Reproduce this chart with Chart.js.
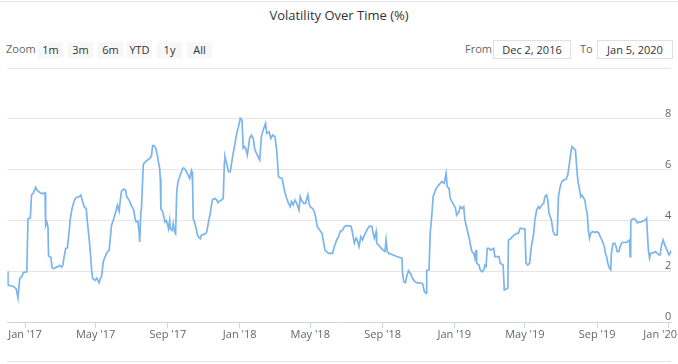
<!DOCTYPE html>
<html>
<head>
<meta charset="utf-8">
<script src="https://cdn.jsdelivr.net/npm/chart.js@4.4.1/dist/chart.umd.min.js"></script>
<style>
  html, body { margin: 0; padding: 0; background: #fff; }
  body { width: 678px; height: 364px; position: relative; overflow: hidden; font-family: "Open Sans", sans-serif; }
  .rule { position: absolute; left: 7px; width: 664px; height: 1px; background: #e6e6e6; }
  #title { position: absolute; top: 6px; left: 0; width: 678px; text-align: center; font-size: 13px; color: #333; }
  .lbl { position: absolute; top: 41px; font-size: 11px; color: #666; line-height: 16px; }
  .btn { position: absolute; top: 42px; width: 25px; height: 16px; line-height: 16px; background: #f7f7f7; color: #333; font-size: 11px; text-align: center; }
  .date { position: absolute; top: 40px; height: 17px; line-height: 17px; border: 1px solid #e0e0e0; font-size: 11px; color: #333; text-align: center; }
  #wrap { position: absolute; left: 0; top: 70px; width: 678px; height: 294px; }
</style>
</head>
<body>
<div class="rule" style="top:1px; left:0; width:678px;"></div>
<div id="title">Volatility Over Time (%)</div>

<div class="lbl" style="left:6px;">Zoom</div>
<div class="btn" style="left:38px;">1m</div>
<div class="btn" style="left:68px;">3m</div>
<div class="btn" style="left:98px;">6m</div>
<div class="btn" style="left:127px;">YTD</div>
<div class="btn" style="left:157px;">1y</div>
<div class="btn" style="left:187px;">All</div>

<div class="lbl" style="left:465px;">From</div>
<div class="date" style="left:493px; width:76px;">Dec 2, 2016</div>
<div class="lbl" style="left:580px;">To</div>
<div class="date" style="left:597px; width:74px;">Jan 5, 2020</div>
<div class="rule" style="top:68px;"></div>

<div id="wrap"><canvas id="chart" width="678" height="294"></canvas></div>
<div class="rule" style="top:361px;"></div>

<script>
// dates are stored as days after the first day of the range
const START_DATE = '2016-12-02';
const END_DATE = '2020-01-05';

const dayOffsets = [
  0, 1, 10, 15, 18, 21, 25, 27, 33, 35, 39, 41, 44, 48, 51, 56, 60, 64, 65, 67, 69, 70, 74, 76, 79,
  83, 86, 89, 92, 94, 97, 99, 102, 105, 107, 110, 114, 117, 122, 125, 128, 131, 134, 136, 139, 141,
  143, 145, 149, 152, 156, 158, 160, 163, 166, 169, 173, 175, 177, 181,
  185, 187, 190, 192, 194, 198, 201, 203, 207, 209, 212, 215, 217, 219, 222, 224, 225, 227, 228,
  231, 233, 236, 240, 243, 245, 247, 249, 252, 255, 257, 259, 260, 261, 264, 266, 268, 270, 272,
  274, 276, 277, 280, 282, 284, 286, 288, 290, 292, 294, 298, 300, 304, 307, 310, 313, 314, 315,
  316, 318, 321, 323, 325, 328, 330, 333, 337, 339, 341, 343, 345, 347, 349, 353, 356, 358, 360,
  364, 367, 369,
  370, 376, 379, 383, 387, 390, 393, 396, 399, 401, 404, 406, 408, 412, 415, 418, 421, 425, 429,
  432, 435, 439, 441, 445, 448, 451, 455, 458, 461, 464, 467, 471, 474, 478, 481, 483, 486, 489,
  492, 496, 498, 500, 504, 507, 511, 513, 515, 519, 522, 524, 527, 529, 531, 535, 537, 540, 543,
  546, 553, 556, 560, 563, 566, 570, 573, 577, 584, 586, 588, 590, 593, 595, 598, 601, 604, 606,
  610, 613, 616, 620, 622, 624, 627, 628, 631, 636, 639, 642, 644, 646, 649, 656, 663, 671, 672,
  674, 677, 679, 682, 686, 689, 693, 696, 706, 709, 712, 713, 717, 719, 722, 724, 728, 731, 736,
  739, 743, 746,
  748, 751, 753, 756, 759, 762, 764, 768, 770, 773, 776, 778, 780, 782, 786, 788, 790, 793, 795,
  797, 798, 802, 804, 807, 810, 812, 814, 816, 819, 822, 827, 829, 836, 838, 843, 845, 851, 852,
  855, 859, 862, 866, 869, 872, 880, 882, 885, 888, 891, 893, 895, 897, 900, 903, 905, 909, 912,
  914, 917, 919, 921, 925, 928, 931, 935, 937, 940, 943, 946, 950, 953, 955, 958, 960, 963, 966,
  968, 970, 972, 975, 977, 982, 984, 986, 988, 990, 992, 995, 999, 1002, 1006, 1008, 1011, 1015,
  1017, 1019, 1021, 1024, 1026, 1027, 1030, 1033, 1035, 1037, 1040, 1042, 1045, 1052, 1055, 1058,
  1059, 1060, 1061, 1065, 1068, 1071, 1078, 1082, 1085, 1087, 1090, 1092, 1094, 1099, 1102, 1108,
  1110, 1112, 1115, 1117, 1119, 1123, 1125, 1127, 1129
];

const volatility = [
  2.0, 1.45, 1.4, 1.31, 0.95, 1.71, 1.81, 1.95, 1.97, 4.07, 4.1, 5.0, 5.07, 5.3, 5.17, 5.09, 5.05, 5.09, 3.8, 3.94, 3.75, 2.6, 2.55, 2.13, 2.1,
  2.16, 2.18, 2.23, 2.16, 2.23, 2.63, 2.89, 2.92, 3.55, 4.07, 4.47, 4.8, 4.9, 4.93, 5.0, 4.73, 4.52, 4.47, 3.94, 3.29, 2.76,
  2.1, 1.71, 1.64, 1.73, 1.55, 1.71, 1.77, 2.37, 2.56, 2.73, 2.82, 3.29, 3.81, 4.07,
  4.4, 4.6, 4.36, 4.8, 5.15, 5.23, 5.19, 4.93, 4.8, 4.67, 4.53, 4.4, 4.07, 3.94, 3.97, 3.55, 3.15, 4.34, 4.47,
  6.18, 6.28, 6.33, 6.41, 6.46, 6.54, 6.94, 6.94, 6.86, 6.57, 6.28, 6.04, 5.65, 4.47, 4.34, 4.14, 3.94, 4.0, 3.88,
  3.68, 4.0, 3.68, 3.61, 3.88, 3.57, 3.48, 5.12, 5.52, 5.65, 5.8, 6.04, 6.07, 5.94, 5.8, 5.65, 5.97, 5.91, 5.39,
  4.07, 3.94, 3.68, 3.44, 3.35, 3.28, 3.42, 3.44, 3.48, 3.55, 3.81, 4.07, 4.27, 4.6, 4.83, 4.86, 4.8, 4.7, 4.75,
  4.8, 4.86, 6.3,
  6.51, 5.92, 5.92, 6.51, 7.03, 7.43, 7.69, 8.02, 7.95, 6.84, 6.9, 6.77, 6.57, 7.23, 7.36, 7.23, 6.77, 6.57, 6.38,
  7.3, 7.56, 7.82, 7.43, 7.49, 7.23, 7.36, 7.3, 6.77, 5.72, 5.66, 5.66, 5.2, 4.93, 4.67, 4.54, 4.74, 4.61, 4.8,
  4.67, 4.41, 4.93, 4.8, 4.67, 4.67, 5.0, 4.67, 4.54, 4.47, 4.34, 4.15, 3.75, 3.69, 3.62, 3.49, 3.23, 2.83, 2.77,
  2.7, 2.7, 2.97, 3.23, 3.36, 3.56, 3.62, 3.75, 3.79, 3.78, 3.62, 3.36, 3.1, 3.3, 3.23, 2.97, 3.36, 3.23, 3.36,
  3.56, 3.69, 3.78, 3.75, 3.49, 3.3, 3.56, 3.1, 3.03, 2.9, 2.83, 2.77, 3.23, 2.77, 2.7, 2.64, 2.57, 2.51, 1.92,
  1.59, 1.55, 1.79, 2.02, 1.89, 1.72, 1.59, 1.55, 1.52, 1.2, 1.13, 2.02, 2.05, 3.49, 4.28, 4.93, 5.2, 5.33, 5.46,
  5.53, 5.46, 5.85,
  5.33, 5.26, 4.87, 4.74, 4.61, 4.47, 4.21, 4.34, 4.54, 4.47, 4.54, 4.02, 3.82, 3.62, 3.23, 2.97, 2.77, 2.7, 2.51,
  2.83, 2.31, 2.24, 2.05, 1.98, 2.05, 2.24, 2.18, 2.9, 2.9, 2.83, 2.9, 2.57, 2.57, 2.31, 2.24, 1.26, 1.33, 3.23,
  3.26, 3.36, 3.43, 3.49, 3.49, 3.69, 3.66, 2.31, 2.24, 2.31, 2.97, 3.23, 3.49, 4.02, 4.41, 4.54, 4.47, 4.61, 4.67,
  4.93, 5.0, 4.8, 4.28, 4.02, 3.56, 3.43, 3.43, 4.93, 5.33, 5.53, 5.59, 5.62, 5.79, 6.12, 6.64, 6.9, 6.84, 6.77,
  6.12, 5.59, 5.33, 4.93, 5.0, 4.8, 4.47, 4.28, 3.62, 3.3, 3.49, 3.56, 3.52, 3.56, 3.49, 3.36, 3.23, 2.97,
  2.7, 2.57, 2.31, 2.11, 2.05, 2.7, 3.1, 3.1, 2.97, 2.77, 2.77, 2.97, 3.13, 3.13, 3.17, 3.23,
  2.57, 3.88, 4.02, 4.07, 4.04, 3.91, 3.94, 3.99, 4.02, 4.08, 2.83, 2.51, 2.7, 2.73, 2.77, 2.64,
  2.64, 2.97, 3.23, 3.1, 2.97, 2.77, 2.64, 2.7, 2.83
];

const xTickDates = ['2017-01-01', '2017-05-01', '2017-09-01', '2018-01-01', '2018-05-01',
                    '2018-09-01', '2019-01-01', '2019-05-01', '2019-09-01', '2020-01-01'];
const xTickLabels = ["Jan '17", "May '17", "Sep '17", "Jan '18", "May '18",
                     "Sep '18", "Jan '19", "May '19", "Sep '19", "Jan '20"];
const yTicks = [0, 2, 4, 6, 8];

const toDay = s => Math.round((Date.parse(s) - Date.parse(START_DATE)) / 86400000);
const xTickDays = xTickDates.map(toDay);

// nudge x labels that would run off the canvas back inside it
const keepLabelsInside = {
    id: 'keepLabelsInside',
    beforeDraw(chart) {
        const ctx = chart.ctx;
        chart.scales.x.getLabelItems().forEach(item => {
            ctx.font = item.font.string;
            const half = ctx.measureText(item.label).width / 2;
            const pos = item.options.translation;
            if (pos[0] + half > chart.width - 1) pos[0] = chart.width - 1 - half;
        });
    }
};

new Chart(document.getElementById('chart'), {
    type: 'line',
    data: {
        datasets: [{
            label: 'Volatility',
            data: dayOffsets.map((d, i) => ({ x: d, y: volatility[i] })),
            borderColor: '#7cb5ec',
            borderWidth: 1.7,
            pointRadius: 0,
            tension: 0,
            fill: false
        }]
    },
    plugins: [keepLabelsInside],
    options: {
        responsive: false,
        animation: false,
        events: [],
        layout: { padding: { left: 7.4, right: 6.7, top: 23.4, bottom: 2 } },
        plugins: { legend: { display: false }, tooltip: { enabled: false } },
        scales: {
            x: {
                type: 'linear',
                min: 0,
                max: toDay(END_DATE),
                afterBuildTicks: scale => { scale.ticks = xTickDays.map(v => ({ value: v })); },
                afterFit: scale => { scale.height = 40; scale.paddingLeft = 0; scale.paddingRight = 0; },
                grid: { drawOnChartArea: false, drawTicks: true, tickLength: 6, tickColor: '#ccd6eb' },
                border: { color: '#ccd6eb' },
                ticks: {
                    autoSkip: false,
                    maxRotation: 0,
                    padding: 0,
                    color: '#666',
                    font: { family: 'Open Sans', size: 11 },
                    callback: value => xTickLabels[xTickDays.indexOf(value)]
                }
            },
            y: {
                type: 'linear',
                position: 'right',
                min: 0,
                max: 9,
                afterBuildTicks: scale => { scale.ticks = yTicks.map(v => ({ value: v })); },
                afterFit: scale => { scale.paddingTop = 0; scale.paddingBottom = 0; },
                grid: { color: '#e6e6e6', drawTicks: false },
                border: { display: false },
                ticks: {
                    mirror: true,
                    padding: 0,
                    labelOffset: -5,
                    color: '#666',
                    font: { family: 'Open Sans', size: 11 }
                }
            }
        }
    }
});
</script>
</body>
</html>
